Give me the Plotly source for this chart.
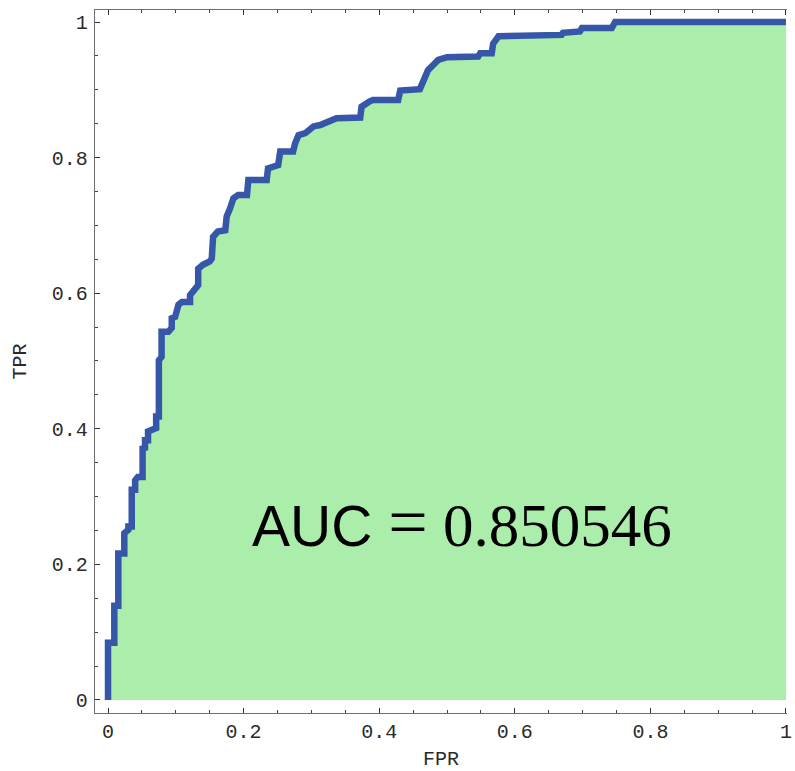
import plotly.graph_objects as go

# ROC curve vertices
fpr = [0.0, 0.0, 0.0093, 0.0093, 0.0152, 0.0152, 0.024, 0.024, 0.030, 0.030, 0.035, 0.035,
       0.040, 0.040, 0.044, 0.051, 0.051, 0.0546, 0.0546, 0.059, 0.059, 0.067, 0.071, 0.071,
       0.075, 0.075, 0.079, 0.079, 0.089, 0.094, 0.094, 0.099, 0.104, 0.109, 0.121, 0.121,
       0.128, 0.133, 0.133, 0.140, 0.150, 0.153, 0.155, 0.162, 0.173, 0.175, 0.180, 0.185,
       0.192, 0.205, 0.207, 0.234, 0.236, 0.251, 0.254, 0.273, 0.276, 0.281, 0.291, 0.303,
       0.313, 0.325, 0.337, 0.372, 0.374, 0.386, 0.391, 0.428, 0.431, 0.460, 0.465, 0.472,
       0.480, 0.487, 0.500, 0.546, 0.549, 0.566, 0.568, 0.576, 0.669, 0.671, 0.696, 0.699,
       0.743, 0.748, 1.0]
tpr = [0.0, 0.0845, 0.0845, 0.139, 0.139, 0.216, 0.216, 0.246, 0.251, 0.256, 0.256, 0.310,
       0.310, 0.324, 0.329, 0.329, 0.371, 0.372, 0.383, 0.383, 0.396, 0.401, 0.401, 0.418,
       0.418, 0.501, 0.506, 0.543, 0.543, 0.549, 0.563, 0.565, 0.583, 0.587, 0.587, 0.597,
       0.607, 0.612, 0.636, 0.642, 0.647, 0.651, 0.683, 0.691, 0.693, 0.713, 0.725, 0.740,
       0.745, 0.745, 0.767, 0.767, 0.784, 0.789, 0.809, 0.809, 0.821, 0.833, 0.836, 0.846,
       0.848, 0.853, 0.858, 0.859, 0.875, 0.883, 0.885, 0.885, 0.899, 0.901, 0.912, 0.929,
       0.937, 0.944, 0.948, 0.949, 0.954, 0.954, 0.968, 0.979, 0.981, 0.984, 0.986, 0.991,
       0.991, 1.0, 1.0]

tick_vals = [0, 0.2, 0.4, 0.6, 0.8, 1]
tick_text = ["0", "0.2", "0.4", "0.6", "0.8", "1"]
auc_value = "0.850546"

mono = "Liberation Mono, Courier New, monospace"
axis_col = "#6e6e6e"
serif = "font-family:'Liberation Serif', serif;"

fig = go.Figure()
fig.add_trace(go.Scatter(
    x=fpr, y=tpr, mode="lines",
    line=dict(color="#3656a8", width=6.5),
    fill="tozeroy", fillcolor="#abedab",
    hoverinfo="skip", showlegend=False,
))

fig.add_annotation(
    x=0.5214, y=0.262, xref="x", yref="y",
    text=("AUC <span style=\"" + serif + "font-size:70px\">=</span>"
          "<span style=\"" + serif + "font-size:61px\"> " + auc_value + "</span>"),
    showarrow=False, xanchor="center", yanchor="middle",
    font=dict(family="Liberation Sans, Arial, sans-serif", size=57, color="#000000"),
)

common = dict(
    showgrid=False, zeroline=False, showline=True, linecolor=axis_col, linewidth=1.3,
    ticks="inside", ticklen=5, tickwidth=1.2, tickcolor="#333333",
    tickfont=dict(family=mono, size=20, color="#2a2a2a"),
    tickvals=tick_vals, ticktext=tick_text,
    minor=dict(dtick=0.05, tick0=0, ticks="inside", ticklen=2.5, tickwidth=1,
               tickcolor="#444444"),
)

fig.update_xaxes(
    range=[-0.0192, 1.0015], mirror="ticks",
    title=dict(text="FPR", font=dict(family=mono, size=20, color="#2a2a2a"), standoff=7),
    ticklabelstandoff=0,
    **common,
)
fig.update_yaxes(
    range=[-0.0192, 1.0177], mirror=False,
    title=dict(text="TPR", font=dict(family=mono, size=20, color="#2a2a2a"), standoff=19),
    ticklabelstandoff=2,
    **common,
)

fig.update_layout(
    width=795, height=771,
    margin=dict(l=95, r=8, t=10, b=58, autoexpand=False),
    plot_bgcolor="white", paper_bgcolor="white",
)

fig.write_html("out.html")
